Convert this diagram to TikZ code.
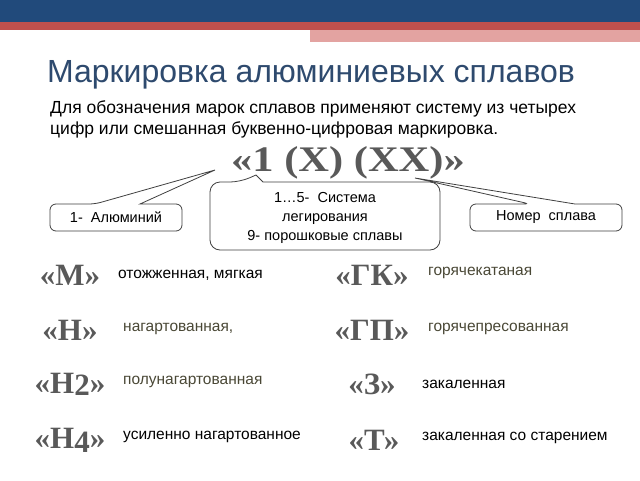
\documentclass[tikz,border=0pt]{standalone}
\usepackage{fontspec}
\setmainfont{Liberation Sans}
\newfontfamily\bigserif{Liberation Serif}
\definecolor{hblue}{HTML}{214A7B}
\definecolor{hred}{HTML}{C0504D}
\definecolor{hpink}{HTML}{E3A3A1}
\definecolor{ttl}{HTML}{2E4A6E}
\definecolor{olive}{HTML}{4A4836}
\begin{document}
\begin{tikzpicture}[x=1pt,y=-1pt,
  body/.style={anchor=west,inner sep=0pt,font=\fontsize{15.5}{18}\selectfont},
  big/.style={inner sep=0pt,text=gray!70!black,font=\bigserif\bfseries\fontsize{31}{34}\selectfont},
  call/.style={draw=black!75,line width=0.8pt,fill=white},
  ctext/.style={inner sep=0pt,align=center,font=\fontsize{14.5}{19}\selectfont}]
\useasboundingbox (0,0) rectangle (640,480);
\fill[white] (0,0) rectangle (640,480);
\fill[hblue] (0,0) rectangle (640,22);
\fill[hred] (0,22) rectangle (640,30);
\fill[hpink] (310,30) rectangle (640,42);
\node[inner sep=0pt,text=ttl,font=\fontsize{32}{34}\selectfont] (title) at (311,75) {Маркировка алюминиевых сплавов};
\node[anchor=north west,inner sep=0pt,align=left,font=\fontsize{17.5}{21}\selectfont] (intro) at (50,100)
  {Для обозначения марок сплавов применяют систему из четырех\\цифр или смешанная буквенно-цифровая маркировка.};
\node[big,font=\bigserif\bfseries\fontsize{36}{38}\selectfont] (code) at (348,163) {\scalebox{1.18}[1]{«1 (X) (XX)»}};
% callouts
\draw[call,rounded corners=6pt] (50,204) -- (95,204) [sharp corners] -- (215,170) -- (140,204) [rounded corners=6pt] -- (182,204) -- (182,231) -- (50,231) -- cycle;
\draw[call,rounded corners=10pt] (210,182) -- (240,182) [sharp corners] -- (256,175) -- (263,182) [rounded corners=10pt] -- (440,182) -- (440,250) -- (210,250) -- cycle;
\draw[call,rounded corners=6pt] (470,204) -- (530,204) [sharp corners] -- (415,178) -- (575,204) [rounded corners=6pt] -- (622,204) -- (622,231) -- (470,231) -- cycle;
\node[ctext] (al) at (116,217) {1-\ \ Алюминий};
\node[ctext] (sys) at (325,218) {1…5-\ \ Система\\легирования\\9- порошковые сплавы};
\node[ctext] (num) at (546,217) {Номер\ \ сплава};
% rows left
\node[big] (m) at (70,275) {«М»};
\node[big] (n) at (70,330) {«Н»};
\node[big] (n2) at (70,384) {«Н\raisebox{-2pt}{2}»};
\node[big] (n4) at (70,440) {«Н\raisebox{-4pt}{4}»};
\node[body] (tm) at (118,275) {отожженная, мягкая};
\node[body,text=olive] (tn) at (123,329) {нагартованная,};
\node[body,text=olive] (tn2) at (123,382) {полунагартованная};
\node[body] (tn4) at (123,437) {усиленно нагартованное};
% rows right
\node[big] (gk) at (372,275) {«ГК»};
\node[big] (gp) at (372,330) {«ГП»};
\node[big] (z) at (372,384) {«З»};
\node[big] (t) at (374,440) {«Т»};
\node[body,text=olive] (tgk) at (428,273) {горячекатаная};
\node[body,text=olive] (tgp) at (428,329) {горячепресованная};
\node[body] (tz) at (422,384) {закаленная};
\node[body] (tt) at (422,438) {закаленная со старением};
\end{tikzpicture}
\end{document}
